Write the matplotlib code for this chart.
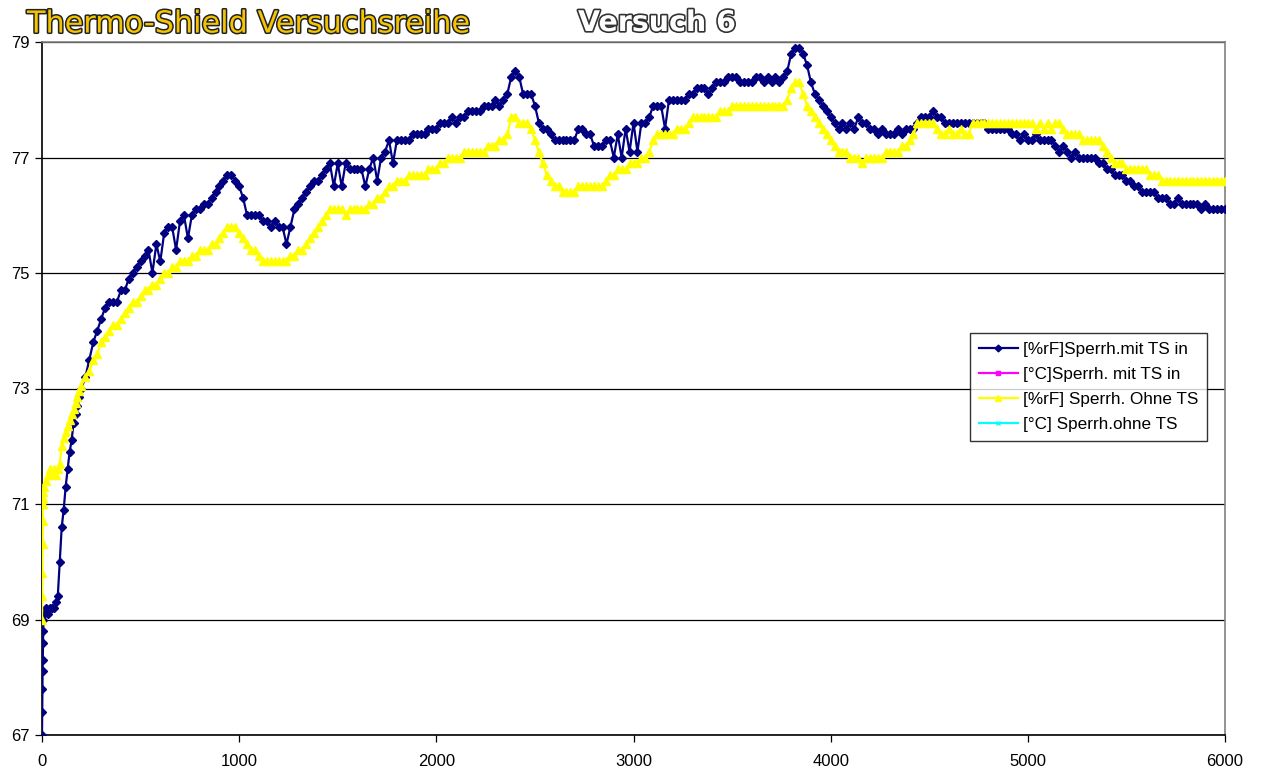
import matplotlib
matplotlib.use("Agg")
import matplotlib.pyplot as plt
import matplotlib.patheffects as pe
import numpy as np

# ---------------- data ----------------
t_start = [0, 1, 2, 3, 4, 5, 6, 7]
t_mid = list(range(10, 201, 10))
t_main = list(range(220, 6001, 20))
time = t_start + t_mid + t_main

rf_mit_start = [67.0, 67.4, 67.8, 68.1, 68.3, 68.6, 68.8, 69.0]
rf_mit_mid = [69.1, 69.2, 69.1, 69.2, 69.2, 69.2, 69.3, 69.4, 70.0, 70.6,
              70.9, 71.3, 71.6, 71.9, 72.1, 72.4, 72.55, 72.7, 72.85, 73.0]
rf_mit_main = [
    73.2, 73.5, 73.8, 74.0, 74.2, 74.4, 74.5, 74.5, 74.5, 74.7,
    74.7, 74.9, 75.0, 75.1, 75.2, 75.3, 75.4, 75.0, 75.5, 75.2,
    75.7, 75.8, 75.8, 75.4, 75.9, 76.0, 75.6, 76.0, 76.1, 76.1,
    76.2, 76.2, 76.3, 76.4, 76.5, 76.6, 76.7, 76.7, 76.6, 76.5,
    76.3, 76.0, 76.0, 76.0, 76.0, 75.9, 75.9, 75.8, 75.9, 75.8,
    75.8, 75.5, 75.8, 76.1, 76.2, 76.3, 76.4, 76.5, 76.6, 76.6,
    76.7, 76.8, 76.9, 76.5, 76.9, 76.5, 76.9, 76.8, 76.8, 76.8,
    76.8, 76.5, 76.8, 77.0, 76.6, 77.0, 77.1, 77.3, 76.9, 77.3,
    77.3, 77.3, 77.3, 77.4, 77.4, 77.4, 77.4, 77.5, 77.5, 77.5,
    77.6, 77.6, 77.6, 77.7, 77.6, 77.7, 77.7, 77.8, 77.8, 77.8,
    77.8, 77.9, 77.9, 77.9, 78.0, 77.9, 78.0, 78.1, 78.4, 78.5,
    78.4, 78.1, 78.1, 78.1, 77.9, 77.6, 77.5, 77.5, 77.4, 77.3,
    77.3, 77.3, 77.3, 77.3, 77.3, 77.5, 77.5, 77.4, 77.4, 77.2,
    77.2, 77.2, 77.3, 77.3, 77.0, 77.4, 77.0, 77.5, 77.1, 77.6,
    77.1, 77.6, 77.6, 77.7, 77.9, 77.9, 77.9, 77.5, 78.0, 78.0,
    78.0, 78.0, 78.0, 78.1, 78.1, 78.2, 78.2, 78.2, 78.1, 78.2,
    78.3, 78.3, 78.3, 78.4, 78.4, 78.4, 78.3, 78.3, 78.3, 78.3,
    78.4, 78.4, 78.3, 78.4, 78.3, 78.4, 78.3, 78.4, 78.5, 78.8,
    78.9, 78.9, 78.8, 78.6, 78.3, 78.1, 78.0, 77.9, 77.8, 77.7,
    77.6, 77.5, 77.6, 77.5, 77.6, 77.5, 77.7, 77.6, 77.6, 77.5,
    77.5, 77.4, 77.5, 77.4, 77.4, 77.4, 77.5, 77.4, 77.5, 77.5,
    77.5, 77.6, 77.7, 77.7, 77.7, 77.8, 77.7, 77.7, 77.6, 77.6,
    77.6, 77.6, 77.6, 77.6, 77.6, 77.6, 77.6, 77.6, 77.6, 77.5,
    77.5, 77.5, 77.5, 77.5, 77.5, 77.4, 77.4, 77.3, 77.4, 77.3,
    77.3, 77.4, 77.3, 77.3, 77.3, 77.3, 77.2, 77.1, 77.2, 77.1,
    77.0, 77.1, 77.0, 77.0, 77.0, 77.0, 77.0, 76.9, 76.9, 76.8,
    76.8, 76.7, 76.7, 76.7, 76.6, 76.6, 76.5, 76.5, 76.4, 76.4,
    76.4, 76.4, 76.3, 76.3, 76.3, 76.2, 76.2, 76.3, 76.2, 76.2,
    76.2, 76.2, 76.2, 76.1, 76.2, 76.1, 76.1, 76.1, 76.1, 76.1,
]

rf_ohne_start = [69.0, 69.4, 69.8, 70.3, 70.7, 71.0, 71.1, 71.2]
rf_ohne_mid = [71.3, 71.4, 71.5, 71.6, 71.5, 71.6, 71.5, 71.6, 71.7, 72.0,
               72.15, 72.25, 72.35, 72.45, 72.55, 72.65, 72.75, 72.85, 72.95, 73.05]
rf_ohne_main = [
    73.2, 73.3, 73.5, 73.6, 73.8, 73.9, 74.0, 74.1, 74.1, 74.2,
    74.3, 74.4, 74.5, 74.5, 74.6, 74.7, 74.7, 74.8, 74.8, 74.9,
    75.0, 75.0, 75.1, 75.1, 75.2, 75.2, 75.2, 75.3, 75.3, 75.4,
    75.4, 75.4, 75.5, 75.5, 75.6, 75.7, 75.8, 75.8, 75.8, 75.7,
    75.6, 75.5, 75.4, 75.4, 75.3, 75.2, 75.2, 75.2, 75.2, 75.2,
    75.2, 75.2, 75.3, 75.3, 75.4, 75.4, 75.5, 75.6, 75.7, 75.8,
    75.9, 76.0, 76.1, 76.1, 76.1, 76.1, 76.0, 76.1, 76.1, 76.1,
    76.1, 76.1, 76.2, 76.2, 76.3, 76.3, 76.4, 76.5, 76.5, 76.6,
    76.6, 76.6, 76.7, 76.7, 76.7, 76.7, 76.7, 76.8, 76.8, 76.8,
    76.9, 76.9, 77.0, 77.0, 77.0, 77.0, 77.1, 77.1, 77.1, 77.1,
    77.1, 77.1, 77.2, 77.2, 77.2, 77.3, 77.3, 77.4, 77.7, 77.7,
    77.6, 77.6, 77.6, 77.5, 77.3, 77.1, 76.9, 76.7, 76.6, 76.5,
    76.5, 76.4, 76.4, 76.4, 76.4, 76.5, 76.5, 76.5, 76.5, 76.5,
    76.5, 76.5, 76.6, 76.7, 76.7, 76.8, 76.8, 76.8, 76.9, 76.9,
    76.9, 77.0, 77.0, 77.1, 77.3, 77.4, 77.4, 77.4, 77.4, 77.4,
    77.5, 77.5, 77.5, 77.6, 77.7, 77.7, 77.7, 77.7, 77.7, 77.7,
    77.7, 77.8, 77.8, 77.8, 77.9, 77.9, 77.9, 77.9, 77.9, 77.9,
    77.9, 77.9, 77.9, 77.9, 77.9, 77.9, 77.9, 77.9, 78.0, 78.2,
    78.3, 78.3, 78.1, 77.9, 77.8, 77.7, 77.6, 77.5, 77.4, 77.3,
    77.2, 77.1, 77.1, 77.1, 77.0, 77.0, 77.0, 76.9, 77.0, 77.0,
    77.0, 77.0, 77.0, 77.1, 77.1, 77.1, 77.1, 77.2, 77.2, 77.3,
    77.4, 77.6, 77.6, 77.6, 77.6, 77.6, 77.5, 77.4, 77.4, 77.5,
    77.4, 77.4, 77.5, 77.4, 77.4, 77.6, 77.6, 77.6, 77.6, 77.6,
    77.6, 77.6, 77.6, 77.6, 77.6, 77.6, 77.6, 77.6, 77.6, 77.6,
    77.6, 77.5, 77.6, 77.5, 77.6, 77.5, 77.6, 77.6, 77.5, 77.4,
    77.4, 77.4, 77.4, 77.3, 77.3, 77.3, 77.3, 77.3, 77.2, 77.1,
    77.0, 76.9, 76.9, 76.9, 76.8, 76.8, 76.8, 76.8, 76.8, 76.8,
    76.7, 76.7, 76.7, 76.6, 76.6, 76.6, 76.6, 76.6, 76.6, 76.6,
    76.6, 76.6, 76.6, 76.6, 76.6, 76.6, 76.6, 76.6, 76.6, 76.6,
]

rf_mit = rf_mit_start + rf_mit_mid + rf_mit_main
rf_ohne = rf_ohne_start + rf_ohne_mid + rf_ohne_main
# temperature series lie outside the shown range (no visible points)
temp_mit = []
temp_ohne = []

labels = ["[%rF]Sperrh.mit TS in", "[°C]Sperrh. mit TS in",
          "[%rF] Sperrh. Ohne TS", "[°C] Sperrh.ohne TS"]
x_ticks = [0, 1000, 2000, 3000, 4000, 5000, 6000]
y_ticks = [67, 69, 71, 73, 75, 77, 79]
title_main = "Thermo-Shield Versuchsreihe"
title_sub = "Versuch 6"

# ---------------- plot ----------------
W, H = 1261, 773
fig = plt.figure(figsize=(W / 100, H / 100), dpi=100)
fig.patch.set_facecolor("white")
ax = fig.add_axes([42 / W, 1 - 735 / H, (1225 - 42) / W, (735 - 42) / H])

ax.plot(time, rf_mit, color="#000080", lw=1.6, marker="D", ms=4.3,
        mfc="#000080", mec="#000080", label=labels[0], zorder=3)
ax.plot(time[:len(temp_mit)], temp_mit, color="#FF00FF", lw=1.6,
        marker="s", ms=4, label=labels[1], zorder=3)
ax.plot(time, rf_ohne, color="#FFFF00", lw=1.6, marker="^", ms=5.5,
        mfc="#FFFF00", mec="#FFFF00", label=labels[2], zorder=4)
ax.plot(time[:len(temp_ohne)], temp_ohne, color="#00FFFF", lw=1.6,
        marker="x", ms=4, label=labels[3], zorder=4)

ax.set_xlim(0, 6000)
ax.set_ylim(67, 79)
ax.set_xticks(x_ticks)
ax.set_yticks(y_ticks)
ax.yaxis.grid(True, color="black", lw=0.9)
ax.set_axisbelow(True)
ax.tick_params(direction="out", length=5, width=0.9, color="black",
               labelsize=12, labelcolor="black")
ax.tick_params(axis="x", pad=9)
ax.tick_params(axis="y", pad=4)
for lab in ax.get_xticklabels() + ax.get_yticklabels():
    lab.set_fontfamily("Liberation Sans")
ax.spines["left"].set_color("black")
ax.spines["bottom"].set_color("black")
ax.spines["top"].set_color("#808080")
ax.spines["right"].set_color("#808080")
for s in ax.spines.values():
    s.set_linewidth(1.2)

leg = fig.legend(loc="upper left", bbox_to_anchor=(970 / W, 1 - 333 / H),
                 borderaxespad=0, frameon=True, fancybox=False,
                 prop={"family": "Liberation Sans", "size": 12.3},
                 handlelength=2.3, labelspacing=0.6, borderpad=0.5,
                 handletextpad=0.3, markerscale=0.8)
leg.get_frame().set_edgecolor("black")
leg.get_frame().set_linewidth(1.0)

fig.text(27 / W, 1 - 24 / H, title_main, fontsize=21.8, family="DejaVu Sans",
         color="#F5C400", va="center", ha="left",
         path_effects=[pe.withStroke(linewidth=2.2, foreground="#222222")])
fig.text(578 / W, 1 - 23 / H, title_sub, fontsize=20.5, family="DejaVu Sans",
         fontweight="bold", color="white", va="center", ha="left",
         path_effects=[pe.withStroke(linewidth=2.4, foreground="#333333")])

fig.savefig("out.png", dpi=100)
